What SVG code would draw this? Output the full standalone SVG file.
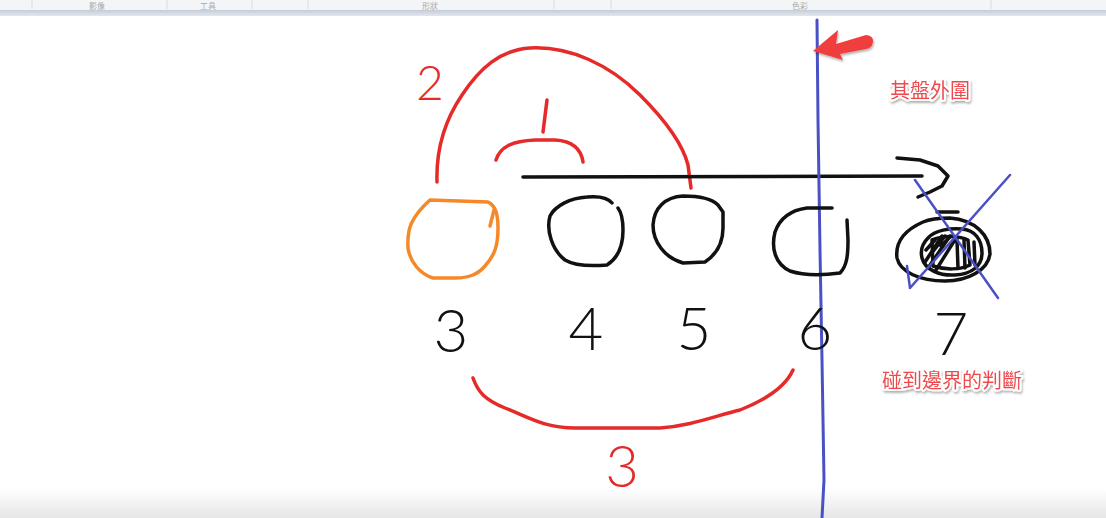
<svg xmlns="http://www.w3.org/2000/svg" width="1106" height="518" viewBox="0 0 1106 518">
<defs>
<style>
.ink{fill:none;stroke-linecap:round;stroke-linejoin:round;stroke-width:3.5}
.red{stroke:#e62a2a}
.blk{stroke:#111}
.org{stroke:#f5892a}
.blu{stroke:#4a50c6;fill:none;stroke-linecap:round;stroke-linejoin:round}
.digit{font-family:Lato,Roboto,"DejaVu Sans",sans-serif;font-weight:300;text-anchor:middle}
.note{font-family:"Noto Sans CJK TC","Noto Sans CJK SC",sans-serif;font-size:20px;fill:#ef4a4e;stroke:#fff;stroke-width:4;paint-order:stroke;stroke-linejoin:round;text-anchor:middle;filter:url(#sh)}
.tb{font-family:"Noto Sans CJK TC",sans-serif;font-size:8px;fill:#aaa;text-anchor:middle}
</style>
<filter id="sh" x="-10%" y="-30%" width="120%" height="170%"><feDropShadow dx="1" dy="2" stdDeviation="1.2" flood-color="#000" flood-opacity="0.3"/></filter>
<linearGradient id="bot" x1="0" y1="0" x2="0" y2="1"><stop offset="0" stop-color="#fff"/><stop offset="1" stop-color="#e6e6e6"/></linearGradient>
<linearGradient id="strip" x1="0" y1="0" x2="0" y2="1"><stop offset="0" stop-color="#c3ccd8"/><stop offset="1" stop-color="#e3e7ee"/></linearGradient>
</defs>
<rect width="1106" height="518" fill="#fff"/>
<g id="toolbar">
<rect x="0" y="0" width="1106" height="10" fill="#f4f5f7"/>
<g stroke="#d8dbe0" stroke-width="1">
<line x1="32" y1="0" x2="32" y2="9"/><line x1="167" y1="0" x2="167" y2="9"/><line x1="252" y1="0" x2="252" y2="9"/><line x1="308" y1="0" x2="308" y2="9"/><line x1="554" y1="0" x2="554" y2="9"/><line x1="611" y1="0" x2="611" y2="9"/><line x1="991" y1="0" x2="991" y2="9"/>
</g>
<text class="tb" x="97" y="8.5">影像</text>
<text class="tb" x="208" y="8.5">工具</text>
<text class="tb" x="430" y="8.5">形狀</text>
<text class="tb" x="800" y="8.5">色彩</text>
<rect x="0" y="10" width="1106" height="6" fill="url(#strip)"/>
</g>
<rect x="0" y="488" width="1106" height="30" fill="url(#bot)"/>

<g id="connectors">
<path class="ink red" d="M437,182 C436,150 445,120 462,95 C480,68 500,50 530,48 C570,46 610,65 640,95 C665,120 683,145 688,165 L691,188"/>
<path class="ink red" d="M496,160 C500,147 512,141 535,140 L555,140 C572,141 581,148 583,162"/>
<path class="ink red" d="M473,378 C478,392 485,400 505,408 C530,418 545,428 575,428 L660,428 C690,426 715,416 740,410 C765,400 785,388 793,370"/>
<line class="ink blk" x1="523" y1="177" x2="922" y2="176"/>
<polyline class="ink blk" points="897,158 920,160 938,166 948,176 942,186 930,192 918,197"/>
</g>

<g id="boundary">
<polyline class="blu" stroke-width="3" points="817,20 818,120 820,250 822,360 824,480 822,518"/>
<path d="M813,51 L838,30 L836,44 L866,35 Q874,36 873,42 Q872,48 866,49 L840,54 L843,60 Z" fill="#f03c3c" filter="url(#sh)"/>
<text class="note" x="930" y="98">其盤外圍</text>
</g>

<g id="label-2"><text class="digit" x="430" y="100" font-size="48" fill="#e62a2a">2</text></g>
<g id="label-1"><line class="ink red" x1="547" y1="100" x2="543" y2="132"/></g>
<g id="label-3"><text class="digit" x="622" y="487" font-size="58" fill="#e62a2a">3</text></g>

<g id="node-3">
<path class="ink org" d="M430,200 L488,202 C496,206 498,215 498,228 C498,245 495,255 485,266 C478,274 470,278 455,278 L433,278 C420,274 410,262 408,248 C407,230 410,218 430,200 Z"/>
<polyline class="ink org" points="494,210 490,226"/>
<text class="digit" x="451" y="352" font-size="60" fill="#111">3</text>
</g>
<g id="node-4">
<path class="ink blk" d="M612,203 C608,198 598,196 587,197 C570,198 555,206 550,216 C546,230 552,250 565,260 C575,266 595,266 607,265 C618,258 623,245 623,230 C623,218 621,212 618,208"/>
<text class="digit" x="586" y="350" font-size="60" fill="#111">4</text>
</g>
<g id="node-5">
<path class="ink blk" d="M718,205 C712,199 698,196 683,196 C665,197 654,208 653,225 C653,242 665,258 683,263 L705,262 C717,254 723,243 723,228 L723,212 L718,205"/>
<text class="digit" x="694" y="350" font-size="60" fill="#111">5</text>
</g>
<g id="node-6">
<path class="ink blk" d="M832,208 L807,208 C792,210 780,218 775,232 C771,248 775,264 790,271 C805,276 825,275 840,273 C847,266 848,255 848,240 L847,220"/>
<text class="digit" x="815" y="350" font-size="60" fill="#111">6</text>
</g>
<g id="node-7">
<line class="ink blk" x1="937" y1="212" x2="958" y2="212"/>
<path class="ink blk" d="M923,222 C905,230 895,242 897,258 C900,272 920,281 945,281 C968,281 988,270 990,254 C990,235 975,220 950,218 C940,218 930,219 923,222 Z"/>
<path class="ink blk" stroke-width="4" d="M928,238 C935,230 950,228 962,229 C975,230 982,240 982,253 C982,266 972,274 955,275 C940,276 925,270 922,258 C920,250 922,244 928,238 Z"/>
<path class="ink blk" stroke-width="3" d="M932,240 C945,235 960,236 968,240 L970,265 C960,270 945,270 933,266 Z"/>
<path class="ink blk" stroke-width="2.5" d="M925,262 L942,236 M928,268 L950,236 M931,254 L945,236 M936,270 L956,238 M941,246 L951,236 M957,240 L958,268 M964,240 L965,268 M974,242 L975,265 M926,250 L935,240"/>
<path class="blu" stroke-width="2.5" d="M915,180 L998,298 M1010,175 L910,288 L907,266"/>
<text class="digit" x="951" y="355" font-size="60" fill="#111">7</text>
<text class="note" x="952" y="388">碰到邊界的判斷</text>
</g>
</svg>
